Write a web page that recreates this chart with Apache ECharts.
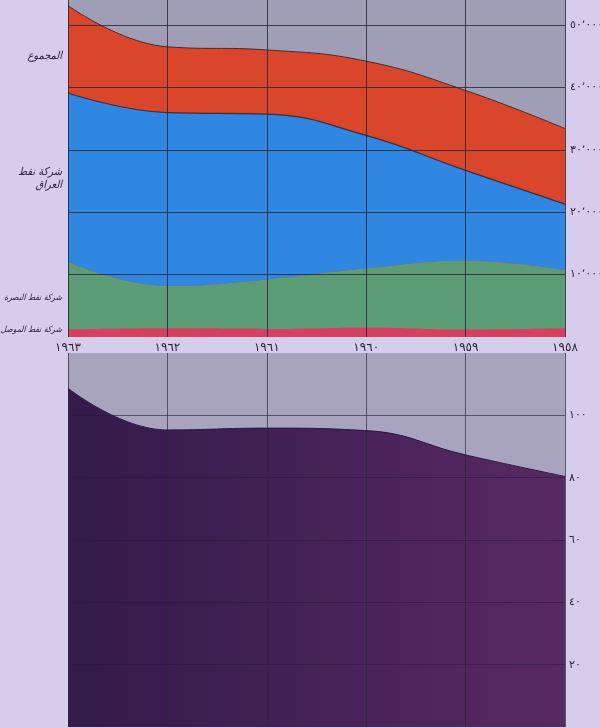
<!DOCTYPE html>
<html>
<head>
<meta charset="utf-8">
<script src="https://cdn.jsdelivr.net/npm/echarts@6/dist/echarts.min.js"></script>
<style>
html,body{margin:0;padding:0;background:#d5cdeb;}
#chart{width:600px;height:728px;}
</style>
</head>
<body>
<div id="chart"></div>
<script>
// Categories (years, right-to-left reading: 1963 ... 1958)
const years = ['١٩٦٣', '١٩٦٢', '١٩٦١', '١٩٦٠', '١٩٥٩', '١٩٥٨'];
// Top panel values
const totalProduction = [53100, 46500, 46000, 44200, 39500, 33400];
const mosulPetroleum = [1200, 1400, 1300, 1500, 1200, 1400];
const basrahPetroleum = [10850, 6800, 7930, 9500, 11000, 9300];
const iraqPetroleum = [27050, 27750, 26470, 21300, 14500, 10600];
// Bottom panel values
const percentValues = [108.7, 95.3, 95.9, 95.1, 87.3, 80.4];
// Side labels
const sideLabels = [
  { text: 'المجموع', y: 56, size: 11 },
  { text: 'شركة نفط', y: 172, size: 11 },
  { text: 'العراق', y: 185, size: 11 },
  { text: 'شركة نفط البصرة', y: 298, size: 8.5 },
  { text: 'شركة نفط الموصل', y: 330, size: 8.5 }
];

const arabicDigits = ['٠','١','٢','٣','٤','٥','٦','٧','٨','٩'];
function toArabic(n) {
  return String(n).split('').map(function (c) { return /[0-9]/.test(c) ? arabicDigits[+c] : c; }).join('');
}

const gridLine = { show: true, showMinLine: false, showMaxLine: false, lineStyle: { color: '#2a2838', width: 1, opacity: 0.85 } };
const labelFont = { fontFamily: 'DejaVu Sans', fontSize: 11, color: '#2a2440' };

const chart = echarts.init(document.getElementById('chart'));
chart.setOption({
  backgroundColor: '#d5cdeb',
  animation: false,
  grid: [
    { left: 68, right: 35, top: 0, height: 337, show: true, backgroundColor: '#a09eb7', borderWidth: 0, containLabel: false, outerBoundsMode: 'none' },
    { left: 68, right: 35, top: 353, height: 374, show: true, backgroundColor: '#a8a4bf', borderWidth: 0, containLabel: false, outerBoundsMode: 'none' }
  ],
  xAxis: [
    {
      gridIndex: 0, type: 'category', data: years, boundaryGap: false, z: 5,
      axisLine: { show: false }, axisTick: { show: false },
      axisLabel: Object.assign({ margin: 5 }, labelFont, { fontSize: 12 }),
      splitLine: { show: true, lineStyle: { color: '#2a2838', width: 1, opacity: 0.85 } }
    },
    {
      gridIndex: 1, type: 'category', data: years, boundaryGap: false, z: 5,
      axisLine: { show: false }, axisTick: { show: false },
      axisLabel: { show: false },
      splitLine: { show: true, lineStyle: { color: '#2a2838', width: 1, opacity: 0.7 } }
    }
  ],
  yAxis: [
    {
      gridIndex: 0, type: 'value', position: 'right', min: 0, max: 54000, interval: 10000, z: 5,
      axisLine: { show: false }, axisTick: { show: false },
      axisLabel: Object.assign({
        margin: 5, showMinLabel: false, showMaxLabel: false,
        formatter: function (v) { return toArabic(v / 1000) + '٬' + '٠٠٠'; }
      }, labelFont),
      splitLine: gridLine
    },
    {
      gridIndex: 1, type: 'value', position: 'right', min: 0, max: 120, interval: 20, z: 5,
      axisLine: { show: false }, axisTick: { show: false },
      axisLabel: Object.assign({
        margin: 4, showMinLabel: false, showMaxLabel: false,
        formatter: function (v) { return toArabic(v); }
      }, labelFont),
      splitLine: { show: true, showMinLine: false, showMaxLine: false, lineStyle: { color: '#2a1a35', width: 1, opacity: 0.6 } }
    }
  ],
  series: [
    {
      name: 'المجموع', type: 'line', xAxisIndex: 0, yAxisIndex: 0, data: totalProduction,
      smooth: 0.45, symbol: 'none', z: 2,
      lineStyle: { color: '#4a2a28', width: 1 },
      areaStyle: { color: '#d9462c', opacity: 1 }
    },
    {
      name: 'شركة نفط الموصل', type: 'line', stack: 'companies', xAxisIndex: 0, yAxisIndex: 0, data: mosulPetroleum,
      smooth: 0.45, symbol: 'none', z: 2,
      lineStyle: { width: 0 },
      areaStyle: { color: '#d63f62', opacity: 1 }
    },
    {
      name: 'شركة نفط البصرة', type: 'line', stack: 'companies', xAxisIndex: 0, yAxisIndex: 0, data: basrahPetroleum,
      smooth: 0.45, symbol: 'none', z: 2,
      lineStyle: { width: 0 },
      areaStyle: { color: '#5c9c76', opacity: 1 }
    },
    {
      name: 'شركة نفط العراق', type: 'line', stack: 'companies', xAxisIndex: 0, yAxisIndex: 0, data: iraqPetroleum,
      smooth: 0.45, symbol: 'none', z: 2,
      lineStyle: { color: '#3a2e3a', width: 1.2 },
      areaStyle: { color: '#2f87e2', opacity: 1 }
    },
    {
      name: 'percent', type: 'line', xAxisIndex: 1, yAxisIndex: 1, data: percentValues,
      smooth: 0.45, symbol: 'none', z: 2,
      lineStyle: { color: '#2a1a3a', width: 1 },
      areaStyle: {
        opacity: 1,
        color: new echarts.graphic.LinearGradient(0, 0, 1, 0, [
          { offset: 0, color: '#331a4b' },
          { offset: 1, color: '#582963' }
        ])
      }
    }
  ],
  graphic: sideLabels.map(function (l) {
    return {
      type: 'text', x: 62, y: l.y, z: 10,
      style: {
        text: l.text, font: 'italic ' + l.size + 'px "DejaVu Sans Condensed", "DejaVu Sans"', fill: '#2a2440',
        align: 'right', textAlign: 'right', verticalAlign: 'middle', textVerticalAlign: 'middle'
      }
    };
  })
});
</script>
</body>
</html>
